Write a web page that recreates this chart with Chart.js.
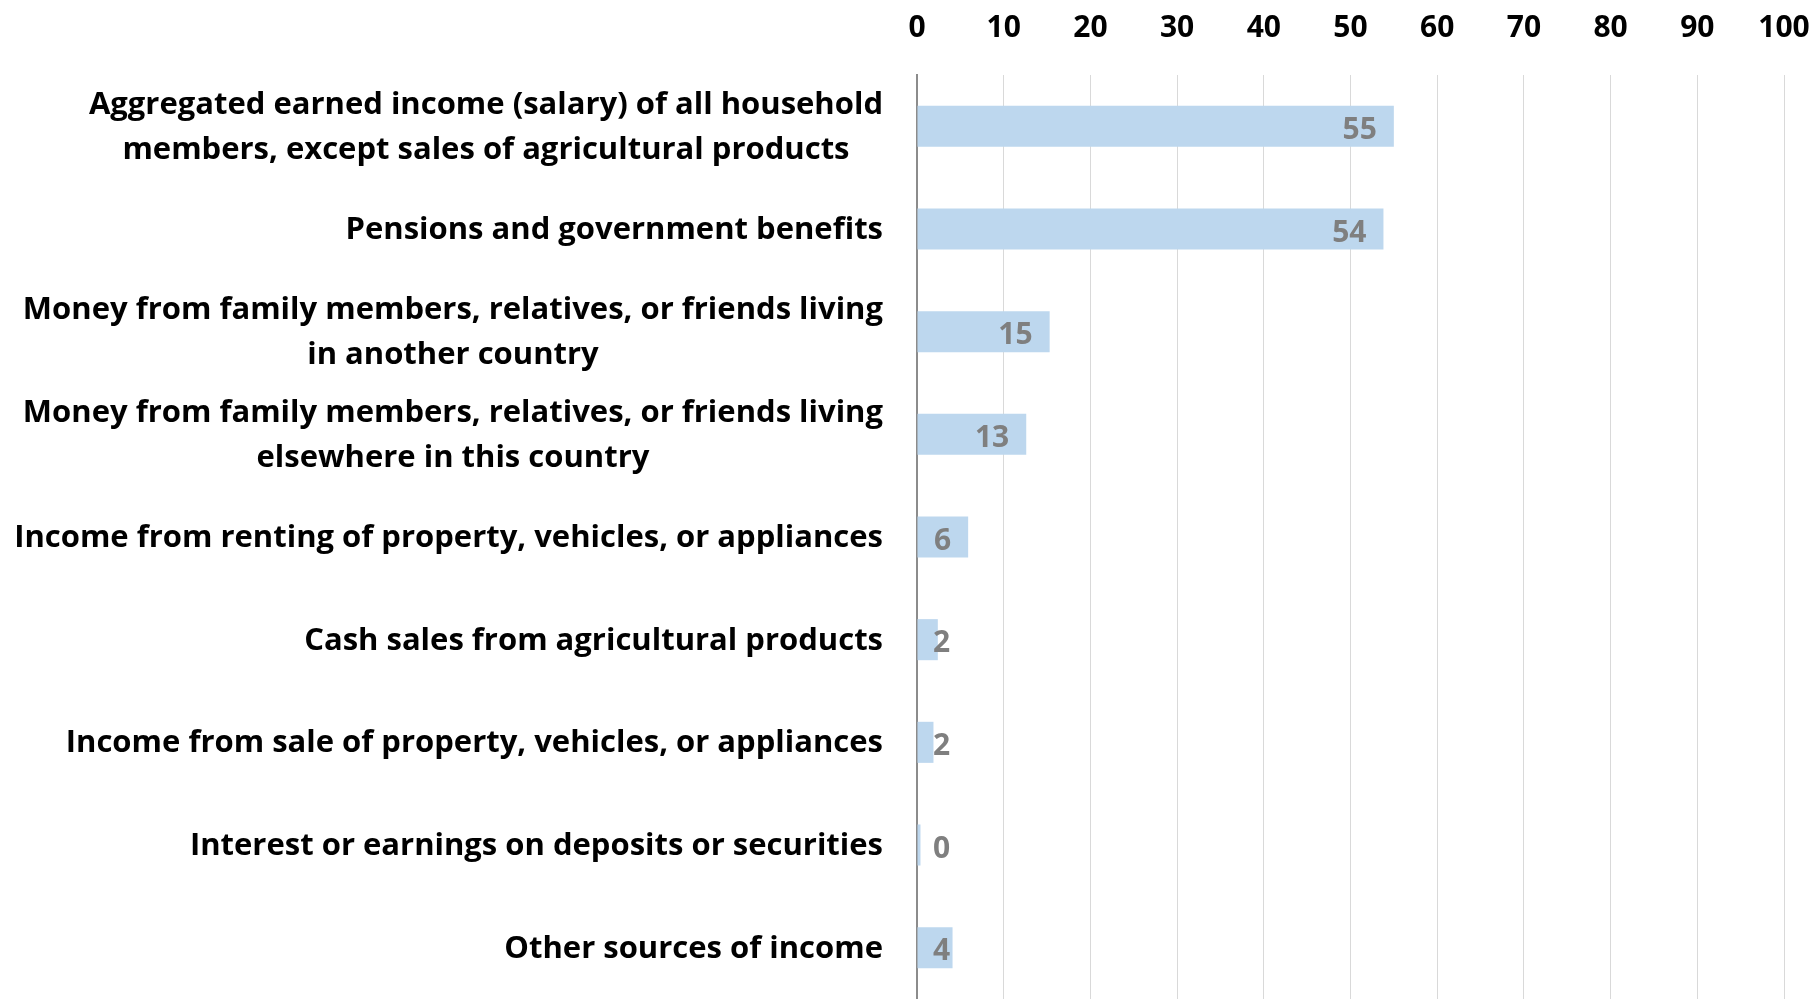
<!DOCTYPE html>
<html>
<head>
<meta charset="utf-8">
<script src="https://cdn.jsdelivr.net/npm/chart.js@4.4.0/dist/chart.umd.min.js"></script>
<style>
  html, body { margin: 0; padding: 0; background: #fff; }
  #wrap { width: 1818px; height: 999px; position: relative; }
</style>
</head>
<body>
<div id="wrap"><canvas id="chart"></canvas></div>
<script>
// chart data
const categories = [
  ['Aggregated earned income (salary) of all household', 'members, except sales of agricultural products'],
  ['Pensions and government benefits'],
  ['Money from family members, relatives, or friends living', 'in another country'],
  ['Money from family members, relatives, or friends living', 'elsewhere in this country'],
  ['Income from renting of property, vehicles, or appliances'],
  ['Cash sales from agricultural products'],
  ['Income from sale of property, vehicles, or appliances'],
  ['Interest or earnings on deposits or securities'],
  ['Other sources of income'],
];
const values = [55, 53.8, 15.3, 12.6, 5.9, 2.4, 1.9, 0.4, 4.1];
const xTicks = [0, 10, 20, 30, 40, 50, 60, 70, 80, 90, 100];

const FONT = '"Open Sans", "Noto Sans", sans-serif';
const LABEL_RIGHT = 883;   // right edge of category labels
const LABEL_WIDTH = 870;   // width of the widest category label
const LINE_GAP = 45;       // distance between two lines of a label

// fit the category label font to the width used in the picture
function fitLabelSize(ctx) {
  ctx.font = `bold 100px ${FONT}`;
  let widest = 0;
  categories.forEach((lines) => {
    lines.forEach((l) => { widest = Math.max(widest, ctx.measureText(l).width); });
  });
  return Math.round(100 * LABEL_WIDTH / widest * 10) / 10;
}

/**
 * Draws category labels: block right aligned, lines centered in the block.
 */
const categoryLabels = {
  id: 'categoryLabels',
  afterDraw(chart) {
    const { ctx } = chart;
    const yScale = chart.scales.y;
    const size = fitLabelSize(ctx);
    const capH = size * 0.714;
    ctx.save();
    ctx.font = `bold ${size}px ${FONT}`;
    ctx.fillStyle = '#000';
    ctx.textAlign = 'center';
    ctx.textBaseline = 'alphabetic';
    categories.forEach((lines, i) => {
      const y = yScale.getPixelForValue(i);
      const blockW = Math.max(...lines.map((l) => ctx.measureText(l).width));
      const cx = LABEL_RIGHT - blockW / 2;
      const top = y - ((lines.length - 1) * LINE_GAP) / 2;
      lines.forEach((l, k) => {
        ctx.fillText(l, cx, top + k * LINE_GAP + capH / 2 - 1);
      });
    });
    ctx.restore();
  },
};

/**
 * Draws value labels at the inside end of each bar, kept clear of the axis.
 */
const valueLabels = {
  id: 'valueLabels',
  afterDatasetsDraw(chart) {
    const { ctx, chartArea } = chart;
    const meta = chart.getDatasetMeta(0);
    const size = 30;
    ctx.save();
    ctx.font = `bold ${size}px ${FONT}`;
    ctx.fillStyle = '#7f7f7f';
    ctx.textAlign = 'left';
    ctx.textBaseline = 'alphabetic';
    meta.data.forEach((bar, i) => {
      const text = String(Math.round(values[i]));
      const w = ctx.measureText(text).width;
      const left = Math.max(bar.x - 17 - w, chartArea.left + 16);
      ctx.fillText(text, left, bar.y + size * 0.714 / 2 + 2);
    });
    ctx.restore();
  },
};

const ctx = document.getElementById('chart').getContext('2d');
const chart = new Chart(ctx, {
  type: 'bar',
  data: {
    labels: categories,
    datasets: [{
      data: values,
      backgroundColor: '#bdd7ee',
      borderWidth: 0,
      barPercentage: 0.4,
      categoryPercentage: 1,
    }],
  },
  options: {
    indexAxis: 'y',
    responsive: true,
    maintainAspectRatio: false,
    animation: false,
    layout: {
      padding: { left: 917, right: 34, top: 0, bottom: 0 },
    },
    plugins: {
      legend: { display: false },
      title: { display: false },
      tooltip: { enabled: false },
    },
    scales: {
      x: {
        position: 'top',
        min: xTicks[0],
        max: xTicks[xTicks.length - 1],
        afterBuildTicks: (scale) => { scale.ticks = xTicks.map((v) => ({ value: v })); },
        afterFit: (scale) => {
          scale.height = 75;
          scale.paddingLeft = 0;
          scale.paddingRight = 0;
        },
        ticks: {
          color: '#000',
          padding: 29,
          maxRotation: 0,
          font: { family: FONT, size: 30, weight: 'bold' },
        },
        grid: { color: '#d9d9d9', lineWidth: 1, drawTicks: false },
        border: { display: false },
      },
      y: {
        offset: true,
        afterFit: (scale) => { scale.width = 0; },
        ticks: { display: false },
        grid: { display: false, drawTicks: false },
        border: { display: true, color: '#8c8c8c', width: 2 },
      },
    },
  },
  plugins: [categoryLabels, valueLabels],
});
</script>
</body>
</html>
